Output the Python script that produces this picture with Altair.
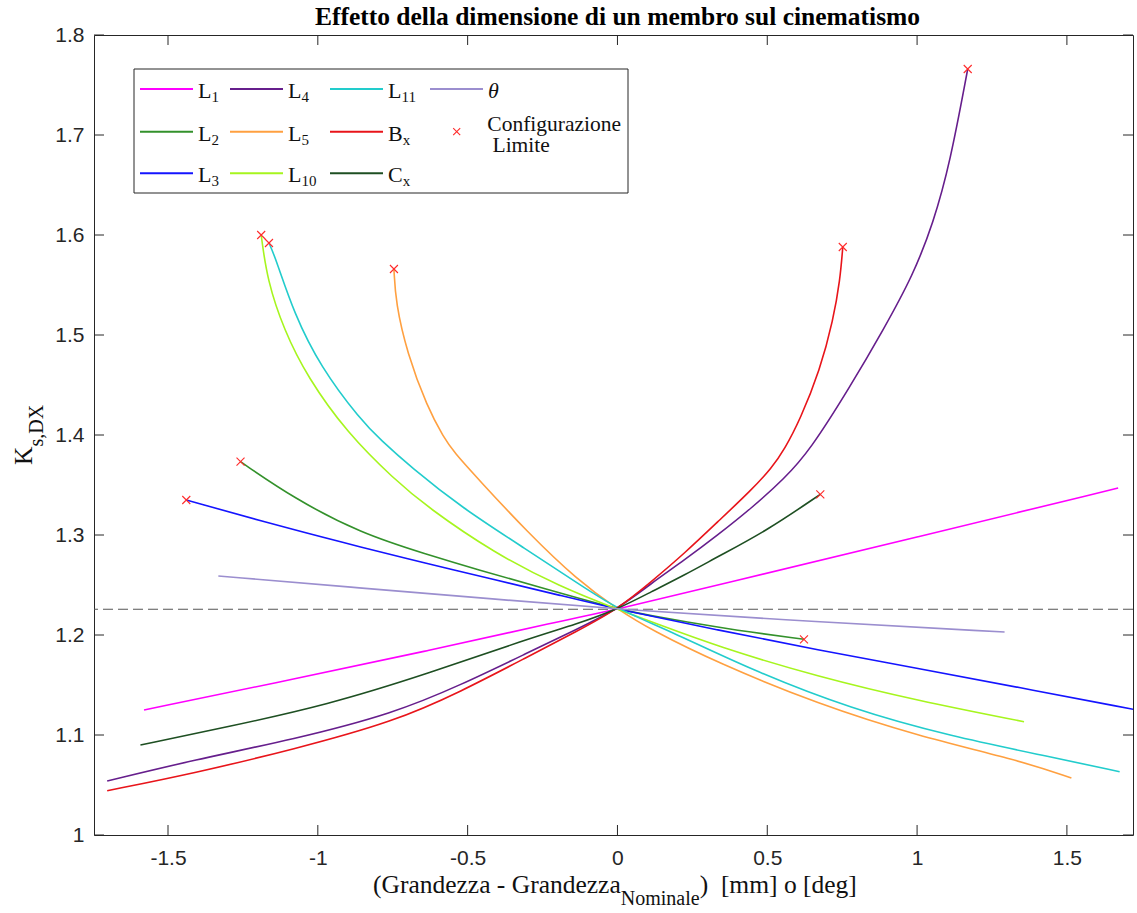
import altair as alt
import pandas as pd

# ---------------- data ----------------
x_ticks = [-1.5, -1.0, -0.5, 0.0, 0.5, 1.0, 1.5]
y_ticks = [1.0, 1.1, 1.2, 1.3, 1.4, 1.5, 1.6, 1.7, 1.8]
nominal_y = [1.2257]

L1_x = [-1.58, -1.08, -0.635, -0.19, 0.0, 0.335, 1.003, 1.671]
L1_y = [1.125, 1.156, 1.184, 1.214, 1.2257, 1.250, 1.298, 1.347]

L2_x = [-1.258, -1.080, -0.857, -0.635, -0.468, -0.245, 0.0, 0.113, 0.224, 0.391, 0.6225]
L2_y = [1.3733, 1.3367, 1.3017, 1.2805, 1.2655, 1.2465, 1.2257, 1.2193, 1.2133, 1.205, 1.1957]

L3_x = [-1.439, -1.080, -0.857, -0.635, -0.412, -0.190, 0.0, 0.335, 0.669, 1.003, 1.337, 1.721]
L3_y = [1.335, 1.305, 1.288, 1.2715, 1.2555, 1.2395, 1.2257, 1.205, 1.185, 1.1667, 1.1477, 1.1257]

L4_x = [-1.703, -1.414, -1.080, -0.746, -0.523, -0.301, -0.134, 0.0, 0.113, 0.224, 0.335,
        0.447, 0.558, 0.641, 0.776, 0.887, 0.987, 1.054, 1.110, 1.169]
L4_y = [1.054, 1.075, 1.0957, 1.1217, 1.150, 1.182, 1.206, 1.2257, 1.2517, 1.275, 1.300,
        1.3267, 1.3567, 1.384, 1.448, 1.505, 1.560, 1.612, 1.672, 1.766]

L5_x = [-0.746, -0.740, -0.702, -0.635, -0.579, -0.546, -0.468, -0.301, -0.134, 0.0,
        0.113, 0.335, 0.669, 1.003, 1.337, 1.515]
L5_y = [1.566, 1.532, 1.482, 1.428, 1.397, 1.383, 1.357, 1.303, 1.255, 1.2257,
        1.2050, 1.1720, 1.1310, 1.0990, 1.0750, 1.057]

L10_x = [-1.189, -1.169, -1.113, -1.035, -0.902, -0.746, -0.635, -0.412, -0.190, 0.0,
         0.113, 0.335, 0.669, 1.003, 1.357]
L10_y = [1.600, 1.555, 1.505, 1.458, 1.402, 1.356, 1.328, 1.282, 1.248, 1.2257,
         1.2133, 1.1883, 1.1583, 1.1343, 1.1133]

L11_x = [-1.163, -1.141, -1.080, -0.991, -0.857, -0.790, -0.690, -0.523, -0.301, -0.134, 0.0,
         0.169, 0.447, 0.780, 1.114, 1.448, 1.676]
L11_y = [1.592, 1.577, 1.522, 1.468, 1.415, 1.395, 1.368, 1.328, 1.285, 1.252, 1.2257,
         1.2050, 1.1650, 1.1260, 1.0985, 1.0780, 1.0633]

Bx_x = [-1.703, -1.414, -1.080, -0.746, -0.523, -0.301, -0.134, 0.0, 0.113, 0.224, 0.335,
        0.447, 0.515, 0.558, 0.609, 0.676, 0.720, 0.743, 0.752]
Bx_y = [1.0443, 1.0617, 1.0857, 1.1133, 1.1433, 1.178, 1.204, 1.2257, 1.2533, 1.2817, 1.3133,
        1.345, 1.367, 1.386, 1.415, 1.465, 1.515, 1.555, 1.588]

Cx_x = [-1.592, -1.302, -0.969, -0.635, -0.301, -0.134, 0.0, 0.113, 0.224, 0.335, 0.502, 0.677]
Cx_y = [1.090, 1.108, 1.130, 1.161, 1.196, 1.211, 1.2257, 1.2433, 1.260, 1.2783, 1.305, 1.3407]

th_x = [-1.332, -0.857, -0.412, 0.0, 0.669, 1.292]
th_y = [1.259, 1.247, 1.236, 1.2257, 1.213, 1.203]

lim_x = [-1.439, -1.258, -1.189, -1.163, -0.746, 0.6225, 0.677, 0.752, 1.169]
lim_y = [1.335, 1.3733, 1.600, 1.592, 1.566, 1.1957, 1.3407, 1.588, 1.766]

# legend order (column-major, 3 rows)
series_names = ["L1", "L2", "L3", "L4", "L5", "L10", "L11", "Bx", "Cx", "theta"]
series_colors = ["#ff00ff", "#33912b", "#1414ff", "#661e8c", "#ffa040",
                 "#a6f51e", "#22cccc", "#e8141a", "#1e4f22", "#9b8ecf"]
leg_main = ["L", "L", "L", "L", "L", "L", "L", "B", "C"]
leg_sub = ["1", "2", "3", "4", "5", "10", "11", "x", "x"]

title_text = "Effetto della dimensione di un membro sul cinematismo"
xt_main = "(Grandezza - Grandezza"
xt_sub = "Nominale"
xt_tail = ")\u00a0\u00a0[mm] o [deg]"
yt_main = "K"
yt_sub = "s,DX"
lim_label = ["Configurazione", "Limite"]

# ---------------- layout ----------------
W, H = 1039, 800
OX, OY = 94, 35   # plot origin in page
SERIF = "Liberation Serif"
SANS = "Liberation Sans"
AX = "#262626"

times = {'(': .333, ')': .333, 'G': .722, 'r': .333, 'a': .444, 'n': .5, 'd': .5, 'e': .444,
         'z': .444, ' ': .25, '\u00a0': .25, '-': .333, 'N': .722, 'o': .5, 'm': .778, 'i': .278,
         'l': .278, 'K': .722, 'L': .611, 'B': .667, 'C': .667, 's': .389, ',': .25, 'D': .722,
         'X': .722, '[': .333, ']': .333, 'g': .5}


def tw(s, fs):
    return sum(times.get(c, .5) for c in s) * fs


series = {
    "L1": (L1_x, L1_y), "L2": (L2_x, L2_y), "L3": (L3_x, L3_y), "L4": (L4_x, L4_y),
    "L5": (L5_x, L5_y), "L10": (L10_x, L10_y), "L11": (L11_x, L11_y),
    "Bx": (Bx_x, Bx_y), "Cx": (Cx_x, Cx_y), "theta": (th_x, th_y),
}
rows = []
for name in series_names:
    xs, ys = series[name]
    for i, (a, b) in enumerate(zip(xs, ys)):
        rows.append({"s": name, "x": a, "y": b, "o": i})
df = pd.DataFrame(rows)

fix_minus = "replace(datum.label, '\u2212', '-')"
xscale = alt.Scale(domain=[-1.747, 1.7206], nice=False, zero=False)
yscale = alt.Scale(domain=[1.0, 1.8], nice=False, zero=False)
xaxis = alt.Axis(values=x_ticks, format="~g", labelExpr=fix_minus, labelFont=SANS, labelFontSize=21,
                 labelColor=AX, labelPadding=12, domain=False, ticks=False, grid=False, title=None)
yaxis = alt.Axis(values=y_ticks, format="~g", labelFont=SANS, labelFontSize=21, labelColor=AX,
                 labelPadding=10, domain=False, ticks=False, grid=False, title=None)
X = alt.X("x:Q", scale=xscale, axis=xaxis)
Y = alt.Y("y:Q", scale=yscale, axis=yaxis)

lines = alt.Chart(df).mark_line(strokeWidth=1.6, interpolate="basis", clip=True).encode(
    x=X, y=Y,
    color=alt.Color("s:N", scale=alt.Scale(domain=series_names, range=series_colors), legend=None),
    order="o:Q",
)

dash = alt.Chart(pd.DataFrame({"y": nominal_y})).mark_rule(
    color="#555555", strokeWidth=1.1, strokeDash=[10, 5]).encode(y=Y)

marks = alt.Chart(pd.DataFrame({"x": lim_x, "y": lim_y})).mark_point(
    shape="M-1,-1L1,1M-1,1L1,-1", size=64, filled=False, stroke="#ff2a2a",
    strokeWidth=1.1, opacity=1).encode(x=X, y=Y)

dfx = pd.DataFrame({"x": x_ticks})
dfy = pd.DataFrame({"y": y_ticks})
tick_b = alt.Chart(dfx).mark_rule(color=AX, strokeWidth=1).encode(x=X, y=alt.value(H), y2=alt.value(H - 10))
tick_t = alt.Chart(dfx).mark_rule(color=AX, strokeWidth=1).encode(x=X, y=alt.value(0), y2=alt.value(10))
tick_l = alt.Chart(dfy).mark_rule(color=AX, strokeWidth=1).encode(y=Y, x=alt.value(0), x2=alt.value(10))
tick_r = alt.Chart(dfy).mark_rule(color=AX, strokeWidth=1).encode(y=Y, x=alt.value(W), x2=alt.value(W - 10))

# ---------------- legend (built from the series lists) ----------------
col_start = [46, 136, 236, 336]
row_y = [54, 96.7, 138.3]
LEN = 53
FS_L, FS_S = 22, 15

leg_lines = []
leg_text = []
for i, name in enumerate(series_names):
    c, r = i // 3, i % 3
    x0 = col_start[c]
    leg_lines.append({"px": x0, "px2": x0 + LEN, "py": row_y[r], "c": series_colors[i]})
    if i < len(leg_main):
        tx = x0 + LEN + 5
        leg_text.append({"t": leg_main[i], "px": tx, "py": row_y[r] + 9, "fs": FS_L, "ang": 0})
        leg_text.append({"t": leg_sub[i], "px": tx + tw(leg_main[i], FS_L), "py": row_y[r] + 13,
                         "fs": FS_S, "ang": 0})
theta_pos = {"px": col_start[3] + LEN + 5, "py": row_y[0] + 9}

# configurazione limite entry
lim_leg = pd.DataFrame({"px": [362.7], "py": [row_y[1]]})
leg_text.append({"t": lim_label[0], "px": 393.3, "py": 95.6, "fs": 21.5, "ang": 0})
leg_text.append({"t": lim_label[1], "px": 398.5, "py": 117.0, "fs": 21.5, "ang": 0})

# axis titles with subscripts
FS_T, FS_TS = 25.5, 20
xt0 = 373 - OX
xb = 893 - OY
leg_text.append({"t": xt_main, "px": xt0, "py": xb, "fs": FS_T, "ang": 0})
xs0 = xt0 + tw(xt_main, FS_T)
leg_text.append({"t": xt_sub, "px": xs0, "py": xb + 12, "fs": FS_TS, "ang": 0})
leg_text.append({"t": xt_tail, "px": xs0 + tw(xt_sub, FS_TS), "py": xb, "fs": FS_T, "ang": 0})

yk_x, yk_y = 32 - OX, 465 - OY
leg_text.append({"t": yt_main, "px": yk_x, "py": yk_y, "fs": FS_T, "ang": 270})
leg_text.append({"t": yt_sub, "px": yk_x + 11, "py": yk_y - tw(yt_main, FS_T), "fs": FS_TS, "ang": 270})

df_ll = pd.DataFrame(leg_lines)
df_lt = pd.DataFrame(leg_text)

box = alt.Chart(pd.DataFrame({"a": [0]})).mark_rect(
    fill="white", stroke=AX, strokeWidth=1).encode(
    x=alt.value(40), x2=alt.value(534), y=alt.value(34), y2=alt.value(158))

legl = alt.Chart(df_ll).mark_rule(strokeWidth=2).encode(
    x=alt.X("px:Q", scale=None), x2="px2:Q", y=alt.Y("py:Q", scale=None),
    color=alt.Color("c:N", scale=None))

legm = alt.Chart(lim_leg).mark_point(
    shape="M-1,-1L1,1M-1,1L1,-1", size=49, filled=False, stroke="#ff2a2a",
    strokeWidth=1.1, opacity=1).encode(x=alt.X("px:Q", scale=None), y=alt.Y("py:Q", scale=None))

txt = alt.Chart(df_lt).mark_text(font=SERIF, align="left", baseline="alphabetic", color="#111111").encode(
    x=alt.X("px:Q", scale=None), y=alt.Y("py:Q", scale=None), text="t:N",
    size=alt.Size("fs:Q", scale=None), angle=alt.Angle("ang:Q", scale=None))

theta_t = alt.Chart(pd.DataFrame({"t": ["θ"]})).mark_text(
    font=SERIF, fontStyle="italic", fontSize=22, align="left", baseline="alphabetic",
    color="#111111").encode(x=alt.value(theta_pos["px"]), y=alt.value(theta_pos["py"]), text="t:N")

title = alt.Chart(pd.DataFrame({"t": [title_text]})).mark_text(
    font=SERIF, fontWeight="bold", fontSize=25.5, align="center", baseline="alphabetic",
    color="#000000").encode(x=alt.value(617.5 - OX), y=alt.value(25 - OY), text="t:N")

chart = alt.layer(
    dash, lines, marks, tick_b, tick_t, tick_l, tick_r,
    box, legl, legm, txt, theta_t, title,
).properties(
    width=W, height=H,
    autosize=alt.AutoSizeParams(type="none"),
    padding={"left": OX, "top": OY, "right": 1137 - OX - W, "bottom": 913 - OY - H},
    background="white",
).configure_view(stroke=AX, strokeWidth=1)

chart.save("out.html", embed_options={"renderer": "svg", "actions": False})
